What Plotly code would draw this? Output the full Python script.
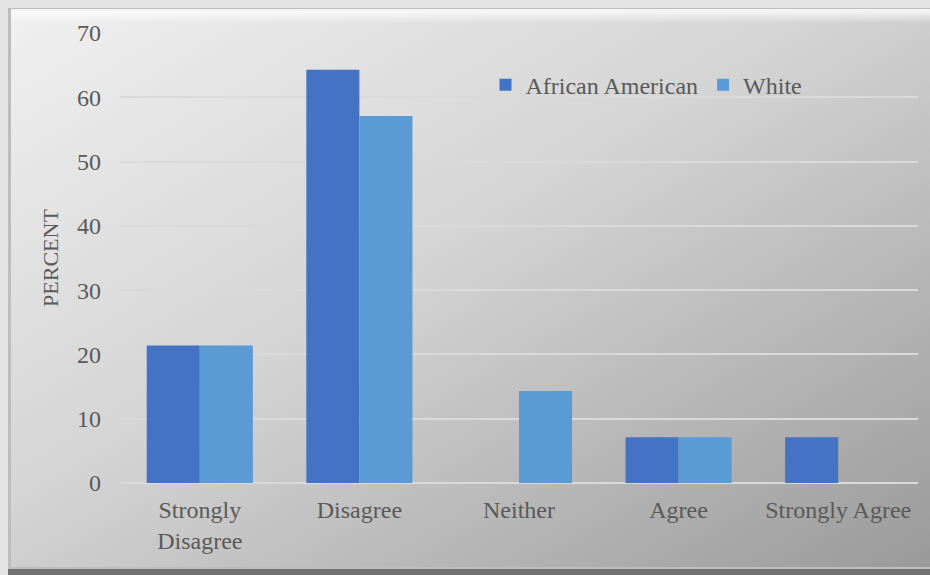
import base64
import plotly.graph_objects as go

categories = ["Strongly<br>Disagree", "Disagree", "Neither", "Agree", "Strongly Agree"]
african_american = [21.4, 64.3, 0, 7.1, 7.1]
white = [21.4, 57.1, 14.3, 7.1, 0]
y_ticks = [0, 10, 20, 30, 40, 50, 60, 70]

W, H = 930, 575
ML, MR, MT, MB = 120, 12, 33, 92
PW, PH = W - ML - MR, H - MT - MB

svg = f'''<svg xmlns="http://www.w3.org/2000/svg" width="{W}" height="{H}" viewBox="0 0 {W} {H}">
<defs>
<linearGradient id="g" x1="0" y1="0" x2="1" y2="1">
<stop offset="0" stop-color="#f0f0f0"/>
<stop offset="0.45" stop-color="#d4d4d4"/>
<stop offset="1" stop-color="#9a9a9a"/>
</linearGradient>
<linearGradient id="top" x1="0" y1="0" x2="0" y2="1">
<stop offset="0" stop-color="#ffffff" stop-opacity="0.9"/>
<stop offset="1" stop-color="#ffffff" stop-opacity="0"/>
</linearGradient>
</defs>
<rect x="0" y="0" width="{W}" height="{H}" fill="#e4e4e4"/>
<rect x="8" y="8" width="{W-8}" height="{H-8}" fill="#707070"/>
<rect x="8" y="8" width="{W-8}" height="{H-14}" fill="#bdbdbd"/>
<rect x="11" y="11" width="{W-11}" height="{H-19}" fill="url(#g)"/>
<rect x="11" y="9" width="{W-11}" height="14" fill="url(#top)"/>
</svg>'''
src = "data:image/svg+xml;base64," + base64.b64encode(svg.encode()).decode()

font = "Liberation Serif, Times New Roman, serif"
txt = "#595959"

fig = go.Figure()
fig.add_trace(go.Bar(name="African American", x=categories, y=african_american,
                     marker=dict(color="#4472C4", line=dict(width=0))))
fig.add_trace(go.Bar(name="White", x=categories, y=white,
                     marker=dict(color="#5B9BD5", line=dict(width=0))))

fig.update_layout(
    width=W, height=H,
    margin=dict(l=ML, r=MR, t=MT, b=MB),
    paper_bgcolor="#e4e4e4",
    plot_bgcolor="rgba(0,0,0,0)",
    barmode="group",
    bargap=0.335,
    bargroupgap=0,
    font=dict(family=font, size=24, color=txt),
    images=[dict(source=src, xref="paper", yref="paper",
                 x=-ML / PW, y=1 + MT / PH, sizex=W / PW, sizey=H / PH,
                 xanchor="left", yanchor="top", sizing="stretch", layer="below")],
    legend=dict(orientation="h", x=0.458, y=0.884, xanchor="left", yanchor="middle",
                bgcolor="rgba(0,0,0,0)", font=dict(size=24, color=txt),
                itemwidth=30, tracegroupgap=0),
    xaxis=dict(showgrid=False, showline=False, ticks="", ticklabelstandoff=10,
               tickfont=dict(size=24, color=txt)),
    yaxis=dict(range=[0, 70], tickvals=y_ticks, showgrid=True, gridcolor="#dadada",
               gridwidth=1.5, zeroline=True, zerolinecolor="#dadada", zerolinewidth=1.5,
               showline=False, ticks="", ticklabelstandoff=18,
               tickfont=dict(size=24, color=txt),
               title=dict(text="PERCENT", font=dict(size=22, color=txt), standoff=12)),
)

fig.write_html("out.html", config={"displayModeBar": False},
               post_script="document.body.style.margin='0';document.body.style.background='#e4e4e4';")
